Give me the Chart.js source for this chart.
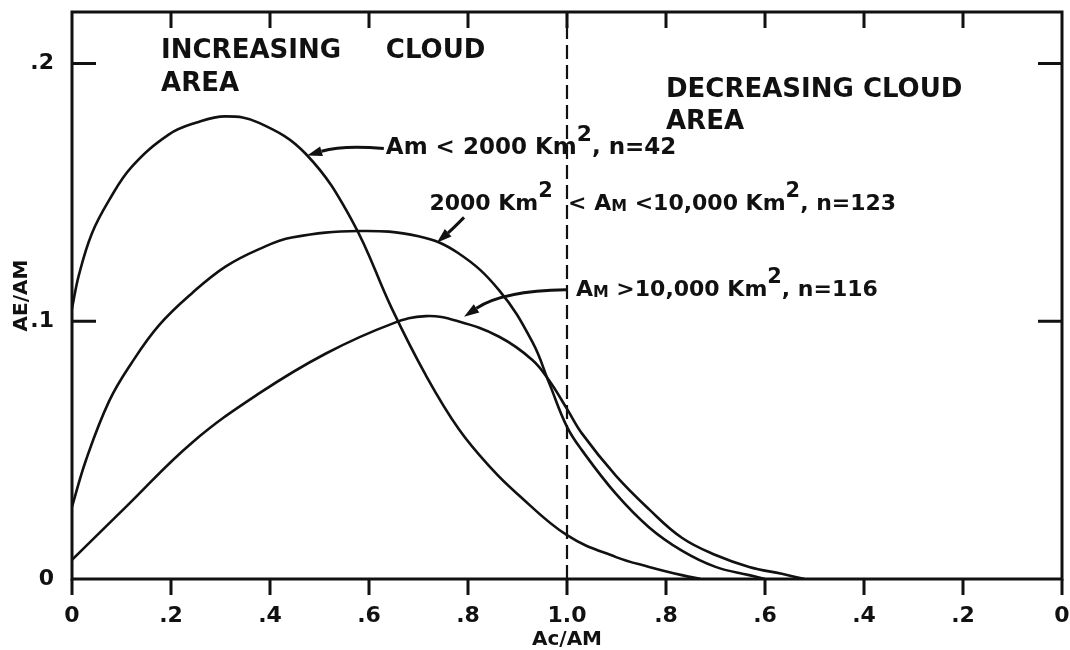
<!DOCTYPE html>
<html lang="en">
<head>
    <meta charset="UTF-8">
    <title>Cloud area growth and decay</title>
    <script src="https://cdn.jsdelivr.net/npm/chart.js@4.4.1/dist/chart.umd.min.js"></script>
    <style>
        body {
            margin: 0;
            padding: 0;
            background-color: #fff;
        }
        .chart-box {
            width: 1070px;
            height: 650px;
        }
    </style>
</head>
<body>
    <div class="chart-box">
        <canvas id="cloudChart" width="1070" height="650"></canvas>
    </div>

    <script>
        // axis ticks: x runs 0 -> 1.0 (growth) then back 1.0 -> 0 (decay)
        const xTickValues = [0, 0.2, 0.4, 0.6, 0.8, 1.0, 1.2, 1.4, 1.6, 1.8, 2.0];
        const xTickLabels = ['0', '.2', '.4', '.6', '.8', '1.0', '.8', '.6', '.4', '.2', '0'];
        const yTickValues = [0, 0.1, 0.2];
        const yTickLabels = ['0', '.1', '.2'];
        const yMax = 0.22;
        const dividerX = 1.0;

        // Am < 2000 Km2, n=42
        const smallX = [0, 0.014, 0.04, 0.075, 0.121, 0.196, 0.25, 0.31, 0.378, 0.472, 0.566, 0.646, 0.715, 0.782, 0.849, 0.897, 1.0, 1.099, 1.166, 1.232, 1.27];
        const smallY = [0.105, 0.118, 0.134, 0.147, 0.160, 0.1725, 0.177, 0.1795, 0.177, 0.165, 0.139, 0.105, 0.079, 0.058, 0.0425, 0.0335, 0.017, 0.0085, 0.0047, 0.0015, 0];

        // 2000 < Am < 10,000 Km2, n=123
        const midX = [0, 0.028, 0.075, 0.121, 0.176, 0.243, 0.31, 0.378, 0.444, 0.58, 0.70, 0.78, 0.863, 0.93, 0.964, 1.0, 1.03, 1.099, 1.166, 1.232, 1.30, 1.368, 1.40];
        const midY = [0.028, 0.046, 0.069, 0.084, 0.0985, 0.111, 0.1212, 0.128, 0.1325, 0.135, 0.133, 0.1265, 0.112, 0.092, 0.076, 0.059, 0.050, 0.033, 0.020, 0.011, 0.0047, 0.0015, 0];

        // Am > 10,000 Km2, n=116
        const largeX = [0, 0.04, 0.109, 0.243, 0.378, 0.513, 0.646, 0.715, 0.78, 0.863, 0.93, 0.964, 1.0, 1.03, 1.099, 1.166, 1.232, 1.30, 1.368, 1.434, 1.48];
        const largeY = [0.0074, 0.015, 0.028, 0.053, 0.072, 0.0875, 0.099, 0.102, 0.100, 0.094, 0.085, 0.077, 0.066, 0.0565, 0.040, 0.027, 0.016, 0.0093, 0.0047, 0.002, 0];

        const INK = '#111';
        const FONT = '"DejaVu Sans", sans-serif';

        // text placed in data units; segments allow superscripts and small caps
        const regionTexts = [
            { x: 0.180, y: 0.2047, size: 26, segs: [{ t: 'INCREASING' }] },
            { x: 0.634, y: 0.2047, size: 26, segs: [{ t: 'CLOUD' }] },
            { x: 0.180, y: 0.1919, size: 26, segs: [{ t: 'AREA' }] },
            { x: 1.200, y: 0.1895, size: 26, segs: [{ t: 'DECREASING CLOUD' }] },
            { x: 1.200, y: 0.1772, size: 26, segs: [{ t: 'AREA' }] }
        ];

        const curveLabels = [
            {
                x: 0.634, y: 0.1674, size: 23,
                segs: [{ t: 'Am < 2000 Km' }, { t: '2', sup: true }, { t: ', n=42' }],
                arrow: { from: [0.630, 0.167], ctrl: [0.549, 0.1685], to: [0.475, 0.1643] }
            },
            {
                x: 0.722, y: 0.1455, size: 22,
                segs: [{ t: '2000 Km' }, { t: '2', sup: true }, { t: '  < A' }, { t: 'M', small: true }, { t: ' <10,000 Km' }, { t: '2', sup: true }, { t: ', n=123' }],
                arrow: { from: [0.792, 0.1403], ctrl: [0.77, 0.136], to: [0.737, 0.1305] }
            },
            {
                x: 1.018, y: 0.1122, size: 22,
                segs: [{ t: 'A' }, { t: 'M', small: true }, { t: ' >10,000 Km' }, { t: '2', sup: true }, { t: ', n=116' }],
                arrow: { from: [0.998, 0.1122], ctrl: [0.87, 0.1118], to: [0.792, 0.1018] }
            }
        ];

        function toPoints(xs, ys) {
            return xs.map((x, i) => ({ x: x, y: ys[i] }));
        }

        function drawRich(ctx, segs, x, y, size) {
            let cx = x;
            ctx.textBaseline = 'middle';
            ctx.textAlign = 'left';
            segs.forEach(seg => {
                let s = size;
                let dy = 0;
                if (seg.sup) { s = size * 0.95; dy = -size * 0.55; }
                if (seg.small) { s = size * 0.72; dy = size * 0.12; }
                ctx.font = 'bold ' + s + 'px ' + FONT;
                ctx.fillText(seg.t, cx, y + dy);
                cx += ctx.measureText(seg.t).width;
            });
        }

        function drawArrow(ctx, xs, ys, a) {
            const fx = xs.getPixelForValue(a.from[0]), fy = ys.getPixelForValue(a.from[1]);
            const cx = xs.getPixelForValue(a.ctrl[0]), cy = ys.getPixelForValue(a.ctrl[1]);
            const tx = xs.getPixelForValue(a.to[0]), ty = ys.getPixelForValue(a.to[1]);
            const ang = Math.atan2(ty - cy, tx - cx);
            const len = 15, half = 5;
            const bx = tx - len * Math.cos(ang), by = ty - len * Math.sin(ang);
            ctx.lineWidth = 3;
            ctx.beginPath();
            ctx.moveTo(fx, fy);
            ctx.quadraticCurveTo(cx, cy, bx, by);
            ctx.stroke();
            ctx.beginPath();
            ctx.moveTo(tx, ty);
            ctx.lineTo(bx + half * Math.sin(ang), by - half * Math.cos(ang));
            ctx.lineTo(bx - half * Math.sin(ang), by + half * Math.cos(ang));
            ctx.closePath();
            ctx.fill();
        }

        const overlay = {
            id: 'overlay',
            afterDatasetsDraw(chart) {
                const ctx = chart.ctx;
                const area = chart.chartArea;
                const xs = chart.scales.x, ys = chart.scales.y;
                ctx.save();
                ctx.strokeStyle = INK;
                ctx.fillStyle = INK;

                // frame
                ctx.lineWidth = 3;
                ctx.strokeRect(area.left, area.top, area.right - area.left, area.bottom - area.top);

                // ticks: bottom outward, top inward, left/right inward
                ctx.beginPath();
                xTickValues.forEach((v, i) => {
                    const px = xs.getPixelForValue(v);
                    ctx.moveTo(px, area.bottom);
                    ctx.lineTo(px, area.bottom + 16);
                    if (i > 0 && i < xTickValues.length - 1) {
                        ctx.moveTo(px, area.top);
                        ctx.lineTo(px, area.top + 16);
                    }
                });
                yTickValues.slice(1).forEach(v => {
                    const py = ys.getPixelForValue(v);
                    ctx.moveTo(area.left, py);
                    ctx.lineTo(area.left + 24, py);
                    ctx.moveTo(area.right, py);
                    ctx.lineTo(area.right - 24, py);
                });
                ctx.stroke();

                regionTexts.forEach(t => {
                    drawRich(ctx, t.segs, xs.getPixelForValue(t.x), ys.getPixelForValue(t.y), t.size);
                });
                curveLabels.forEach(l => {
                    drawRich(ctx, l.segs, xs.getPixelForValue(l.x), ys.getPixelForValue(l.y), l.size);
                    drawArrow(ctx, xs, ys, l.arrow);
                });
                ctx.restore();
            }
        };

        // stop the scales from reserving room for half tick labels at the ends
        function noEdgePadding(scale) {
            scale.paddingTop = 0;
            scale.paddingBottom = 0;
            scale.paddingLeft = 0;
            scale.paddingRight = 0;
        }

        const lineStyle = {
            borderColor: INK,
            borderWidth: 2.6,
            pointRadius: 0,
            fill: false,
            tension: 0.4
        };

        new Chart(document.getElementById('cloudChart'), {
            type: 'line',
            data: {
                datasets: [
                    Object.assign({ label: 'Am < 2000 Km2, n=42', data: toPoints(smallX, smallY) }, lineStyle),
                    Object.assign({ label: '2000 Km2 < Am < 10,000 Km2, n=123', data: toPoints(midX, midY) }, lineStyle),
                    Object.assign({ label: 'Am > 10,000 Km2, n=116', data: toPoints(largeX, largeY) }, lineStyle),
                    {
                        label: 'divider',
                        data: [{ x: dividerX, y: 0 }, { x: dividerX, y: yMax }],
                        borderColor: INK,
                        borderWidth: 2.2,
                        borderDash: [14, 6],
                        pointRadius: 0,
                        fill: false
                    }
                ]
            },
            options: {
                responsive: false,
                animation: false,
                layout: { padding: { left: 0, right: 8, top: 12, bottom: 0 } },
                plugins: {
                    legend: { display: false },
                    tooltip: { enabled: false }
                },
                scales: {
                    x: {
                        type: 'linear',
                        min: 0,
                        max: 2,
                        grid: { display: false, drawTicks: false },
                        border: { display: false },
                        afterBuildTicks: scale => {
                            scale.ticks = xTickValues.map(v => ({ value: v }));
                        },
                        afterFit: scale => { scale.height = 71; noEdgePadding(scale); },
                        ticks: {
                            autoSkip: false,
                            maxRotation: 0,
                            padding: 24,
                            color: INK,
                            font: { family: FONT, size: 22, weight: 'bold' },
                            callback: (v, i) => xTickLabels[i]
                        },
                        title: {
                            display: true,
                            text: 'Ac/AM',
                            color: INK,
                            font: { family: FONT, size: 20, weight: 'bold', lineHeight: 1 },
                            padding: { top: 0, bottom: 0 }
                        }
                    },
                    y: {
                        type: 'linear',
                        min: 0,
                        max: yMax,
                        grid: { display: false, drawTicks: false },
                        border: { display: false },
                        afterBuildTicks: scale => {
                            scale.ticks = yTickValues.map(v => ({ value: v }));
                        },
                        afterFit: scale => { scale.width = 72; noEdgePadding(scale); },
                        ticks: {
                            padding: 18,
                            color: INK,
                            font: { family: FONT, size: 22, weight: 'bold' },
                            callback: (v, i) => yTickLabels[i]
                        },
                        title: {
                            display: true,
                            text: 'AE/AM',
                            color: INK,
                            font: { family: FONT, size: 20, weight: 'bold', lineHeight: 1 },
                            padding: { top: 12, bottom: 0 }
                        }
                    }
                }
            },
            plugins: [overlay]
        });
    </script>
</body>
</html>
